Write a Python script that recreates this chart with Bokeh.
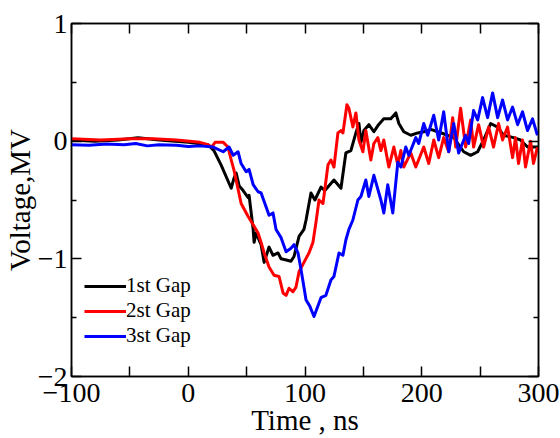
from bokeh.plotting import figure
from bokeh.models import Range1d, LinearAxis, FixedTicker, CustomLabelingPolicy
from bokeh.embed import file_html
from bokeh.resources import INLINE

# ---- data ----
black_t = [-100, -80, -60, -43, -25, 0, 17, 22, 28, 36.8, 39, 41, 43.6, 47, 51.3, 52.1, 55.6, 56.4, 58.1, 62.4,
           65, 69.2, 72.6, 76.9, 79.5, 84, 88, 90.6, 94.9, 99.1, 100.9, 105.1, 108.5, 113.7, 117, 124.8, 130.8,
           135, 139.3, 143.6, 146.2, 147.9, 150.4, 154.7, 159, 163, 167.5, 173.5, 177.8, 180.4, 184.6, 190.6,
           196.6, 201.7, 207.7, 213.7, 222.2, 227.4, 235.9, 241.9, 247.9, 253, 259, 265, 270.1, 278.6, 284.6,
           290.6, 300]
black_v = [0.01, 0.0, 0.01, 0.03, 0.01, -0.01, -0.03, -0.08, -0.2, -0.40, -0.32, -0.27, -0.38, -0.42, -0.48,
           -0.46, -0.75, -0.86, -0.78, -0.88, -1.03, -0.90, -0.97, -0.95, -1.0, -1.01, -1.02, -0.98, -0.81,
           -0.75, -0.67, -0.44, -0.50, -0.39, -0.42, -0.33, -0.40, -0.10, -0.08, 0.07, 0.15, -0.01, 0.09, 0.14,
           0.08, 0.14, 0.19, 0.19, 0.24, 0.15, 0.08, 0.05, 0.07, 0.08, 0.10, 0.08, 0.05, 0.03, -0.09, -0.12,
           -0.09, 0.01, 0.15, 0.12, 0.05, 0.03, 0.01, -0.05, -0.05]

red_t = [-100, -75, -50, -30, -10, 10, 17, 20, 23, 30, 34, 36.8, 39, 41, 45.3, 51.3, 55.6, 59.8, 62.4, 65,
         69.2, 73.5, 77.8, 81.2, 83.8, 86.3, 89.7, 92.3, 94.9, 99.1, 103.4, 106.8, 109.4, 112, 115.4, 119.7,
         122.2, 124.8, 128.2, 130.8, 132.5, 135.9, 137.6, 141, 143.6, 146.2, 149.6, 152.1, 156.4, 159, 162.4,
         165, 167.5, 171.8, 176.1, 179.5, 182.1, 184.6, 190.6, 194.9, 201.7, 206, 210.3, 214.5, 218.8, 223.1,
         226.5, 229.1, 233.3, 237.6, 241.9, 244.4, 248.7, 253, 257.3, 261.5, 265.8, 269.2, 273.5, 277.8,
         280.3, 282.9, 286.3, 288.9, 293.2, 295.7, 299.1]
red_v = [0.02, 0.01, 0.02, 0.02, 0.01, -0.01, -0.03, -0.05, -0.01, -0.01, -0.05, -0.16, -0.24, -0.33, -0.53,
         -0.64, -0.71, -0.78, -0.86, -0.95, -1.07, -1.14, -1.15, -1.29, -1.31, -1.25, -1.28, -1.24, -1.11,
         -1.03, -0.95, -0.86, -0.69, -0.50, -0.53, -0.20, -0.16, -0.22, 0.07, 0.09, 0.07, 0.31, 0.28, 0.12,
         0.24, 0.01, -0.09, 0.09, -0.16, -0.02, 0.03, -0.08, 0.01, -0.22, -0.05, -0.20, -0.08, -0.22, -0.10,
         -0.22, -0.05, -0.19, 0.01, -0.14, 0.03, -0.09, 0.20, -0.05, 0.28, -0.05, 0.18, -0.05, 0.14, -0.05,
         0.12, -0.05, 0.15, 0.01, 0.12, -0.14, 0.03, -0.19, 0.01, -0.22, 0.00, -0.19, -0.05]

blue_t = [-100, -85, -70, -55, -45, -35, -25, -10, 0, 10, 21.4, 29.9, 35, 38.5, 42.7, 45.3, 49.6, 52.1, 55.6,
          59.8, 62.4, 66.7, 69.2, 72.6, 75.2, 79.5, 83.8, 88, 90.6, 94, 96.6, 100.9, 104, 107.7, 113.7, 117.9,
          122.2, 124.8, 129.1, 132.5, 135, 137.6, 141, 145.3, 147.9, 152.1, 154.7, 159, 165, 167.5, 170.9,
          175.2, 179.5, 182.1, 186.3, 188.9, 194.9, 197.4, 201.7, 205.1, 210.3, 214.5, 218.8, 223.1, 227.4,
          231.6, 237.6, 240.2, 244.4, 247.9, 252.1, 256.4, 260.7, 265, 269.2, 273.5, 277.8, 282.1, 286.3,
          290.6, 294.9, 299.1]
blue_v = [-0.03, -0.035, -0.025, -0.03, -0.02, -0.04, -0.03, -0.035, -0.045, -0.04, -0.05, -0.09, -0.05,
          -0.12, -0.09, -0.19, -0.26, -0.24, -0.37, -0.43, -0.44, -0.56, -0.63, -0.61, -0.75, -0.82, -0.94,
          -0.91, -0.88, -0.95, -1.09, -1.35, -1.40, -1.49, -1.33, -1.31, -1.18, -1.15, -0.95, -0.97, -0.84,
          -0.75, -0.67, -0.50, -0.47, -0.33, -0.47, -0.29, -0.50, -0.61, -0.37, -0.61, -0.18, -0.22, -0.05,
          -0.12, 0.03, -0.02, 0.15, 0.05, 0.22, 0.01, 0.25, -0.09, 0.15, -0.10, 0.05, -0.02, 0.26, 0.18, 0.37,
          0.20, 0.41, 0.20, 0.35, 0.18, 0.29, 0.14, 0.25, 0.09, 0.19, 0.05]

series_labels = ["1st Gap", "2st Gap", "3st Gap"]
x_major = [-100, 0, 100, 200, 300]
x_minor = [-50, 50, 150, 250]
y_major = [-2, -1, 0, 1]
y_minor = [-1.5, -0.5, 0.5]

FONT = "Liberation Serif"

p = figure(width=560, height=438, output_backend="svg", toolbar_location=None,
           x_range=Range1d(-100, 300), y_range=Range1d(-2, 1),
           x_axis_location=None, y_axis_location=None,
           min_border_left=70, min_border_right=22, min_border_top=23, min_border_bottom=61)
p.xgrid.visible = False
p.ygrid.visible = False
p.outline_line_color = "black"
p.outline_line_width = 1.5
p.background_fill_color = "white"
p.border_fill_color = "white"

no_labels = CustomLabelingPolicy(code="""
for (const i of indices) indices.unset(i)
return indices
""")


def style_axis(ax, labels=True, major_len=10, minor_len=10):
    ax.major_tick_in = major_len
    ax.major_tick_out = 0
    ax.minor_tick_in = minor_len
    ax.minor_tick_out = 0
    ax.axis_line_color = "black"
    ax.axis_line_width = 1.5
    ax.major_tick_line_color = "black"
    ax.minor_tick_line_color = "black"
    ax.major_tick_line_width = 1.5
    ax.minor_tick_line_width = 1.5
    if labels:
        ax.major_label_text_font = FONT
        ax.major_label_text_font_size = "28px"
        ax.major_label_text_color = "black"
        ax.axis_label_text_font = FONT
        ax.axis_label_text_font_size = "29px"
        ax.axis_label_text_font_style = "normal"
        ax.axis_label_text_color = "black"
    else:
        ax.major_label_policy = no_labels
        ax.major_label_standoff = 0


xb = LinearAxis(ticker=FixedTicker(ticks=x_major, minor_ticks=x_minor), axis_label="Time , ns")
style_axis(xb)
xb.major_label_standoff = 7
xb.axis_label_standoff = -1
p.add_layout(xb, "below")

xt = LinearAxis(ticker=FixedTicker(ticks=x_major, minor_ticks=x_minor))
style_axis(xt, labels=False)
p.add_layout(xt, "above")

yl = LinearAxis(ticker=FixedTicker(ticks=y_major, minor_ticks=y_minor), axis_label="Voltage,MV")
style_axis(yl, major_len=10, minor_len=5)
yl.major_label_standoff = 4
yl.axis_label_standoff = -1
p.add_layout(yl, "left")

yr = LinearAxis(ticker=FixedTicker(ticks=y_major, minor_ticks=y_minor))
style_axis(yr, labels=False, major_len=10, minor_len=5)
p.add_layout(yr, "right")

p.line(black_t, black_v, line_color="#000000", line_width=3, line_join="round", legend_label=series_labels[0])
p.line(red_t, red_v, line_color="#ff0000", line_width=3, line_join="round", legend_label=series_labels[1])
p.line(blue_t, blue_v, line_color="#0000ff", line_width=3, line_join="round", legend_label=series_labels[2])

lg = p.legend[0]
lg.location = (13, 28)
lg.padding = 0
lg.margin = 0
lg.spacing = 0
lg.glyph_width = 42
lg.glyph_height = 24
lg.label_height = 24
lg.label_standoff = 0
lg.label_text_font = FONT
lg.label_text_font_size = "21px"
lg.label_text_color = "black"
lg.border_line_color = None
lg.background_fill_alpha = 0

open("out.html", "w").write(file_html(p, INLINE))
